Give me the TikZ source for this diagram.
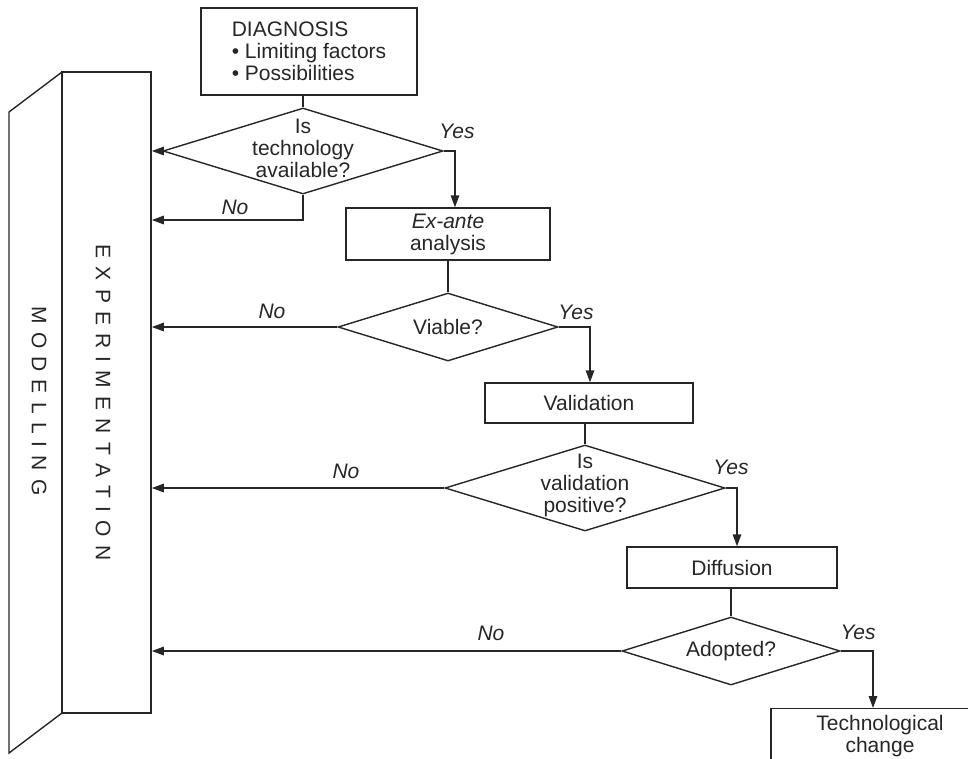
\documentclass[tikz,border=0pt]{standalone}
\usepackage{fontspec}
\setmainfont{Liberation Sans}
\usetikzlibrary{shapes.geometric,arrows.meta}
\newcommand\gp{\hspace{8.2pt}}
\begin{document}
\begin{tikzpicture}[x=1pt,y=-1pt,
  every node/.style={font=\fontsize{21}{22}\selectfont, text=black!85},
  line/.style={line width=1.4pt, draw=black!85},
  box/.style={draw=black!85, line width=1.4pt, inner sep=0pt, align=center},
  dec/.style={draw=black!85, diamond, aspect=1, line width=1.4pt, inner sep=0pt},
  arr/.style={line width=1.4pt, draw=black!85, -{Triangle[length=12pt,width=8.5pt]}},
  yn/.style={font=\fontsize{21}{22}\selectfont\itshape, inner sep=0pt},
  txt/.style={align=center, inner sep=0pt},
]
\useasboundingbox (0,0) rectangle (968,758);
\clip (0,0) rectangle (968,758);

% side panels
\node[box, line width=1.6pt, minimum width=89pt, minimum height=641pt] (exp) at (106.5,392.5) {};
\coordinate (mtop) at (62,72);
\coordinate (mbot) at (62,713);
\draw[line] (mtop) -- (9,112) -- (9,753) -- (mbot);
\node[inner sep=0pt, rotate=-90] (explbl) at (103,402.5)
  {E\gp X\gp P\gp E\gp R\gp I\gp M\gp E\gp N\gp T\gp A\gp T\gp I\gp O\gp N};
\node[inner sep=0pt, rotate=-90] (modlbl) at (39,401)
  {M\gp O\gp D\gp E\gp L\gp L\gp I\gp N\gp G};

% process boxes
\node[box, align=left, minimum width=216pt, minimum height=87pt] (diag) at (309,51.5)
  {DIAGNOSIS\\\textbullet\ Limiting factors\\\textbullet\ Possibilities};
\node[box, minimum width=204pt, minimum height=52pt] (exante) at (448,234)
  {\textit{Ex-ante}\\analysis};
\node[box, minimum width=208pt, minimum height=40pt] (valid) at (589,403) {Validation};
\node[box, minimum width=210pt, minimum height=41pt] (diff) at (732,567.5) {Diffusion};
\node[box, anchor=north, minimum width=218pt, minimum height=90pt,
      label={[txt, anchor=north, yshift=-7pt]north:Technological\\change}] (tech) at (880,708) {};

% decisions
\node[dec, minimum width=280pt, minimum height=86pt] (d1) at (303,151) {};
\node[txt] (d1t) at (303,148) {Is\\technology\\available?};
\node[dec, minimum width=220pt, minimum height=68pt] (d2) at (448,327) {};
\node[txt] (d2t) at (448,327) {Viable?};
\node[dec, minimum width=280pt, minimum height=86pt] (d3) at (585,488) {};
\node[txt] (d3t) at (585,485) {Is\\validation\\positive?};
\node[dec, minimum width=218pt, minimum height=68pt] (d4) at (731,651) {};
\node[txt] (d4t) at (731,651) {Adopted?};

% connectors
\draw[line] (d1.north |- diag.south) -- (d1.north);
\draw[arr] (d1.west) -- (d1.west -| exp.east);
\coordinate (n1) at (303,220);
\draw[arr] (d1.south) -- (n1) -- (n1 -| exp.east);
\coordinate (y1) at (455,151);
\draw[arr] (d1.east) -- (y1) -- (y1 |- exante.north);

\draw[line] (exante.south -| d2.north) -- (d2.north);
\draw[arr] (d2.west) -- (d2.west -| exp.east);
\coordinate (y2) at (590,327);
\draw[arr] (d2.east) -- (y2) -- (y2 |- valid.north);

\draw[line] (valid.south -| d3.north) -- (d3.north);
\draw[arr] (d3.west) -- (d3.west -| exp.east);
\coordinate (y3) at (737,488);
\draw[arr] (d3.east) -- (y3) -- (y3 |- diff.north);

\draw[line] (diff.south -| d4.north) -- (d4.north);
\draw[arr] (d4.west) -- (d4.west -| exp.east);
\coordinate (y4) at (873,651);
\draw[arr] (d4.east) -- (y4) -- (y4 |- tech.north);

% branch labels
\node[yn] (yes1) at (457,131) {Yes};
\node[yn] (no1) at (235,207) {No};
\node[yn] (no2) at (272,311) {No};
\node[yn] (yes2) at (576,312) {Yes};
\node[yn] (no3) at (346,471) {No};
\node[yn] (yes3) at (731,467) {Yes};
\node[yn] (no4) at (491,633) {No};
\node[yn] (yes4) at (858,632) {Yes};
\end{tikzpicture}
\end{document}
